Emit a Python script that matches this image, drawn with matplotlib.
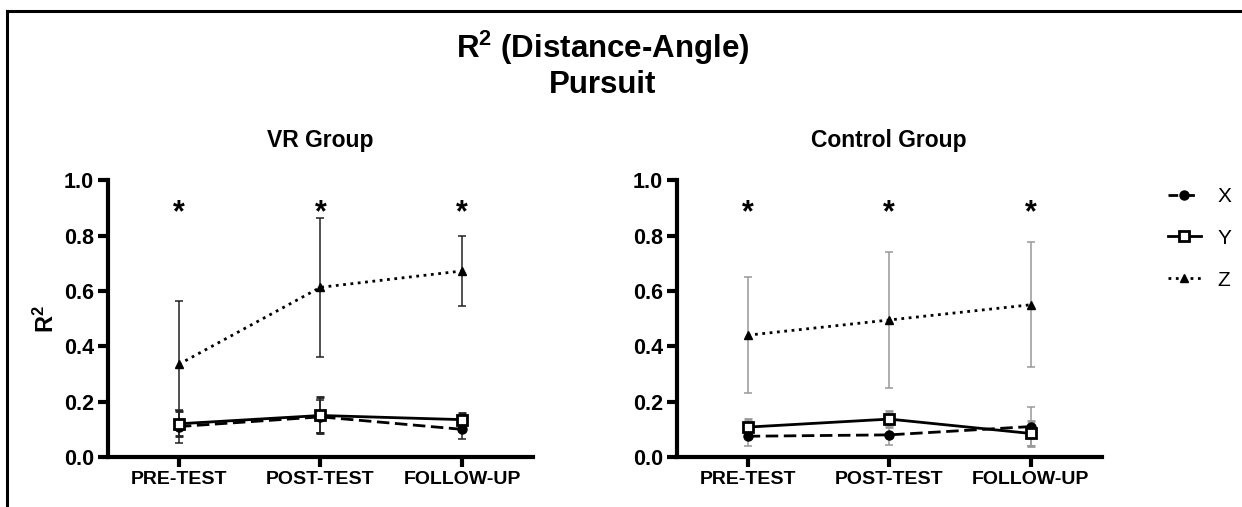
import numpy as np
import matplotlib.pyplot as plt
from matplotlib.lines import Line2D

plt.rcParams["font.family"] = ["Liberation Sans", "DejaVu Sans"]
plt.rcParams["mathtext.fontset"] = "custom"
plt.rcParams["mathtext.rm"] = "Liberation Sans:bold"
plt.rcParams["mathtext.bf"] = "Liberation Sans:bold"
plt.rcParams["mathtext.default"] = "bf"

# Dataset
phases = ["PRE-TEST", "POST-TEST", "FOLLOW-UP"]

vr_x = [0.11, 0.145, 0.10]
vr_x_err = [0.06, 0.06, 0.035]
vr_y = [0.12, 0.15, 0.135]
vr_y_err = [0.045, 0.065, 0.025]
vr_z = [0.335, 0.613, 0.672]
vr_z_err = [0.23, 0.252, 0.125]

ctl_x = [0.075, 0.08, 0.11]
ctl_x_err = [0.035, 0.035, 0.07]
ctl_y = [0.108, 0.137, 0.085]
ctl_y_err = [0.03, 0.03, 0.045]
ctl_z = [0.44, 0.495, 0.55]
ctl_z_err = [0.21, 0.245, 0.225]

star_y = 0.88

fig = plt.figure(figsize=(12.42, 5.07), dpi=100)
ax1 = fig.add_axes([0.087, 0.0986, 0.342, 0.546])
ax2 = fig.add_axes([0.545, 0.0986, 0.342, 0.546])

pos = np.arange(len(phases))


def draw_panel(ax, x, xe, y, ye, z, ze, ecol, title):
    kw = dict(elinewidth=1.1, capsize=3, capthick=1.1, ecolor=ecol, color="black")
    ax.errorbar(pos, z, yerr=ze, linestyle=":", linewidth=2, marker="^",
                markersize=6, **kw)
    ax.errorbar(pos, x, yerr=xe, linestyle=(0, (4.5, 2)), linewidth=2, marker="o",
                markersize=6.5, **kw)
    ax.errorbar(pos, y, yerr=ye, linestyle="-", linewidth=2, marker="s",
                markersize=7.5, markerfacecolor="white", markeredgewidth=2, **kw)
    for p in pos:
        ax.text(p, star_y, "*", ha="center", va="center", fontsize=22,
                fontweight="bold")
    ax.set_xlim(-0.5, 2.5)
    ax.set_ylim(0, 1.0)
    ax.set_xticks(pos)
    ax.set_xticklabels(phases, fontsize=14, fontweight="bold")
    ax.set_yticks([0, 0.2, 0.4, 0.6, 0.8, 1.0])
    ax.set_yticklabels(["0.0", "0.2", "0.4", "0.6", "0.8", "1.0"],
                       fontsize=15.5, fontweight="bold")
    ax.tick_params(width=3, length=7, direction="out", pad=3)
    for s in ["top", "right"]:
        ax.spines[s].set_visible(False)
    for s in ["left", "bottom"]:
        ax.spines[s].set_linewidth(3)
    ax.set_title(title, fontsize=16.5, fontweight="bold", pad=24)


draw_panel(ax1, vr_x, vr_x_err, vr_y, vr_y_err, vr_z, vr_z_err,
           "#222222", "VR Group")
draw_panel(ax2, ctl_x, ctl_x_err, ctl_y, ctl_y_err, ctl_z, ctl_z_err,
           "#999999", "Control Group")
ax1.set_ylabel("R$^2$", fontsize=17, fontweight="bold", labelpad=4)

fig.text(0.485, 0.905, "R$^2$ (Distance-Angle)", ha="center", va="center",
         fontsize=22.5, fontweight="bold")
fig.text(0.485, 0.833, "Pursuit", ha="center", va="center",
         fontsize=22.5, fontweight="bold")

handles = [
    Line2D([], [], color="black", linestyle=(0, (3.5, 2.5)), linewidth=2,
           marker="o", markersize=6.5),
    Line2D([], [], color="black", linestyle="-", linewidth=2, marker="s",
           markersize=7.5, markerfacecolor="white", markeredgewidth=2),
    Line2D([], [], color="black", linestyle=":", linewidth=2, marker="^",
           markersize=6),
]
fig.legend(handles, ["X", "Y", "Z"], loc="center left",
           bbox_to_anchor=(0.925, 0.53), frameon=False, fontsize=15,
           handlelength=1.6, labelspacing=1.1, handletextpad=0.8)

# outer frame (top and left edges)
fig.add_artist(Line2D([0.0056, 1.0], [0.978, 0.978], transform=fig.transFigure,
                      color="black", linewidth=2.2))
fig.add_artist(Line2D([0.0056, 0.0056], [0.0, 0.978], transform=fig.transFigure,
                      color="black", linewidth=2.2))

fig.savefig("out.png", dpi=100)
